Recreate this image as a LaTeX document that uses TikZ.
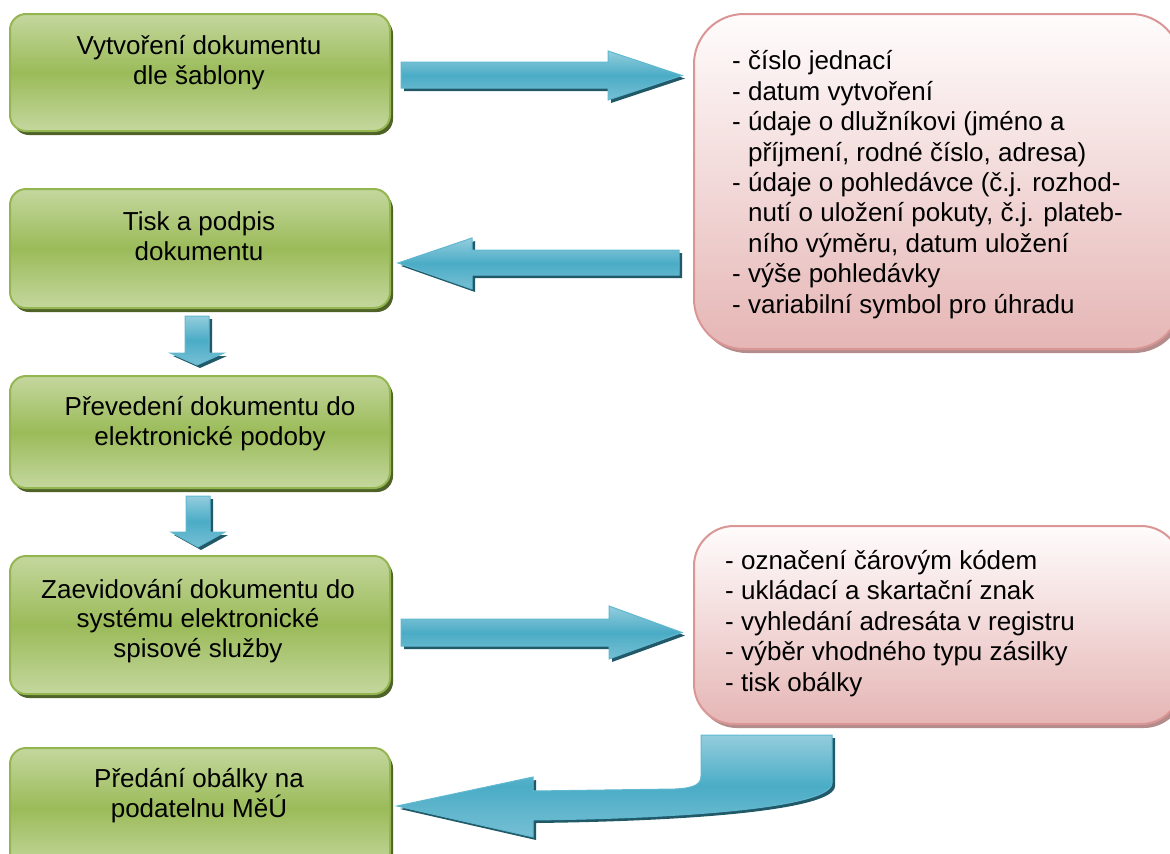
\documentclass[tikz,border=0pt]{standalone}
\usepackage{fontspec}
\setmainfont{Liberation Sans}
\usetikzlibrary{shadows}
\definecolor{gmid}{RGB}{155,187,89}
\definecolor{glight}{RGB}{196,215,158}
\definecolor{gborder}{RGB}{148,182,80}
\definecolor{gshadow}{RGB}{79,98,40}
\definecolor{ptop}{RGB}{255,252,252}
\definecolor{pbot}{RGB}{229,182,181}
\definecolor{pborder}{RGB}{217,150,148}
\definecolor{pshadow}{RGB}{180,140,140}
\definecolor{afill}{RGB}{75,172,198}
\definecolor{alight}{RGB}{147,205,221}
\definecolor{aborder}{RGB}{96,184,208}
\definecolor{ashadow}{RGB}{33,89,104}
\begin{document}
\begin{tikzpicture}[x=1pt,y=-1pt,
  gbox/.style={draw=gborder, line width=2pt, rounded corners=16pt,
    top color=glight, bottom color=glight, middle color=gmid,
    drop shadow={shadow xshift=3pt, shadow yshift=-4pt, fill=gshadow, opacity=1},
    anchor=north west, inner sep=0pt, minimum width=380pt},
  pbox/.style={draw=pborder, line width=2pt,
    top color=ptop, bottom color=pbot,
    drop shadow={shadow xshift=3pt, shadow yshift=-4pt, fill=pshadow, opacity=1},
    anchor=north west, inner sep=0pt, minimum width=487pt},
  gtext/.style={align=center, inner sep=0pt, font=\fontsize{26}{29.5}\selectfont},
  ptext/.style={align=left, inner sep=0pt, font=\fontsize{26}{30.4}\selectfont},
  barrow/.style={draw=aborder, line width=1pt,
    top color=alight, bottom color=alight!60!afill, middle color=afill,
    preaction={fill=ashadow, transform canvas={shift={(3pt,-3pt)}}}}
]
\useasboundingbox (0,0) rectangle (1170,854);

% green boxes
\node[gbox, minimum height=117pt] (g1) at (9,13) {};
\node[gbox, minimum height=119pt] (g2) at (9,188) {};
\node[gbox, minimum height=112pt] (g3) at (9,375) {};
\node[gbox, minimum height=138pt] (g4) at (9,555) {};
\node[gbox, minimum height=120pt] (g5) at (9,747) {};

% (anchor=base is the baseline of the last line)
\node[gtext, anchor=base] (t1) at (199,84) {Vytvoření dokumentu\\dle šablony};
\node[gtext, anchor=base] (t2) at (199,260) {Tisk a podpis\\dokumentu};
\node[gtext, anchor=base] (t3) at (210,445) {Převedení dokumentu do\\elektronické podoby};
\node[gtext, anchor=base] (t4) at (198,657) {Zaevidování dokumentu do\\systému elektronické\\spisové služby};
\node[gtext, anchor=base] (t5) at (199,817) {Předání obálky na\\podatelnu MěÚ};

% pink boxes
\node[pbox, rounded corners=50pt, minimum height=335pt] (p1) at (693,13) {};
\node[pbox, rounded corners=40pt, minimum height=198pt] (p2) at (693,525) {};

\node[ptext, anchor=base west] (pt1) at (732,313) {- číslo jednací\\- datum vytvoření\\- údaje o dlužníkovi (jméno a\\\hphantom{-\ }příjmení, rodné číslo, adresa)\\- údaje o pohledávce (č.j. rozhod-\\\hphantom{-\ }nutí o uložení pokuty, č.j. plateb-\\\hphantom{-\ }ního výměru, datum uložení\\- výše pohledávky\\- variabilní symbol pro úhradu};
\node[ptext, anchor=base west] (pt2) at (725,691) {- označení čárovým kódem\\- ukládací a skartační znak\\- vyhledání adresáta v registru\\- výběr vhodného typu zásilky\\- tisk obálky};

% arrows
\path[barrow] (401,62) -- (608,62) -- (608,51) -- (682,75.5) -- (608,100) -- (608,88) -- (401,88) -- cycle;
\path[barrow] (679,250) -- (472,250) -- (472,238) -- (398,263) -- (472,289) -- (472,275) -- (679,275) -- cycle;
\path[barrow] (401,619) -- (609,619) -- (609,606) -- (682,632.5) -- (609,659) -- (609,646) -- (401,646) -- cycle;
\path[barrow] (185,316) -- (209,316) -- (209,353) -- (224,353) -- (197,365) -- (170,353) -- (185,353) -- cycle;
\path[barrow] (186,496) -- (210,496) -- (210,532) -- (225,532) -- (198,547) -- (171,532) -- (186,532) -- cycle;
\path[barrow] (701,735) -- (832,735) -- (832,783) .. controls (832,806) and (700,818) .. (533,820)
  -- (533,837) -- (397,806) -- (533,777) -- (533,791) -- (675,789)
  .. controls (695,788) and (701,784) .. (701,776) -- cycle;
\end{tikzpicture}
\end{document}
